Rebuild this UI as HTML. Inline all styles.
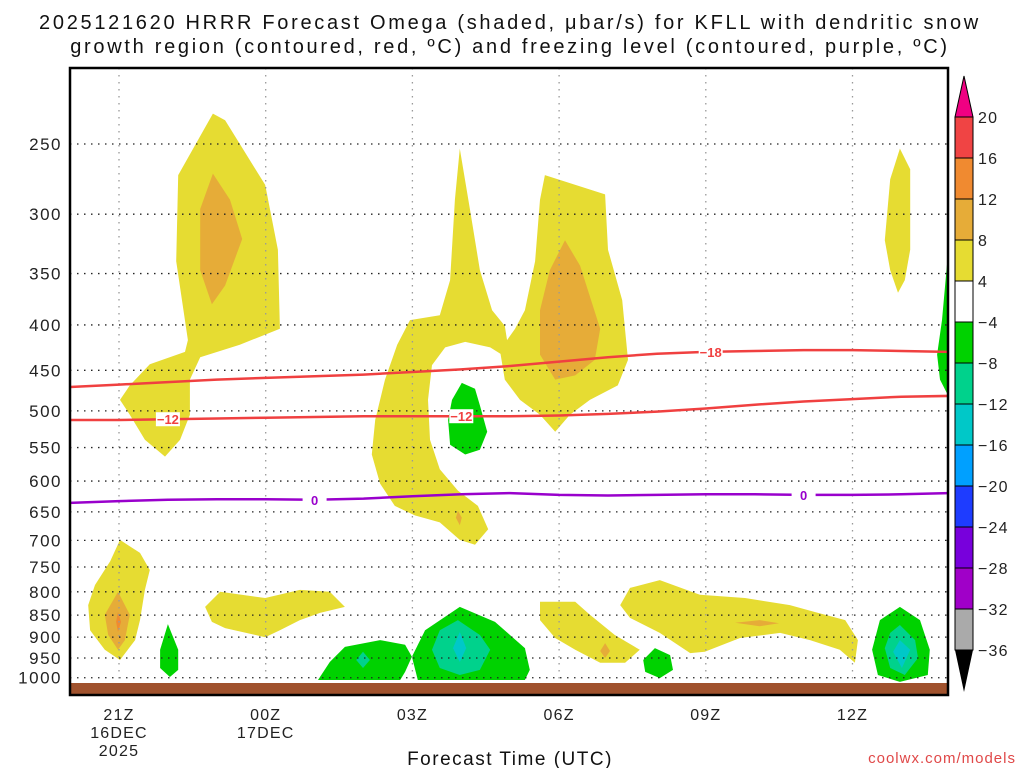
<!DOCTYPE html>
<html><head><meta charset="utf-8"><style>
body{margin:0;background:#fff;}
svg text{font-family:"Liberation Sans","DejaVu Sans",sans-serif;}
</style></head><body>
<svg id="c" width="1024" height="768" xmlns="http://www.w3.org/2000/svg">
<defs><clipPath id="pc"><rect x="70" y="68" width="878" height="615"/></clipPath></defs>
<text x="510" y="29" text-anchor="middle" font-size="20" letter-spacing="2.7" fill="#111">2025121620 HRRR Forecast Omega (shaded, μbar/s) for KFLL with dendritic snow</text>
<text x="510" y="53" text-anchor="middle" font-size="20" letter-spacing="2.7" fill="#111">growth region (contoured, red, ºC) and freezing level (contoured, purple, ºC)</text>
<g id="shade" clip-path="url(#pc)"></g>
<g id="grid"></g>
<g id="lines" clip-path="url(#pc)"></g>
<rect x="70" y="683" width="878" height="12" fill="#a0522d"/>
<rect x="70" y="68" width="878" height="627" fill="none" stroke="#000" stroke-width="2.5"/>
<g id="axes"></g>
<g id="cbar"></g>
<text x="510" y="765" text-anchor="middle" font-size="19" letter-spacing="1.5" fill="#111">Forecast Time (UTC)</text>
<text x="1016" y="763" text-anchor="end" font-size="15" letter-spacing="1" fill="#e04848">coolwx.com/models</text>
</svg>
<script>
const pLevels=[250,300,350,400,450,500,550,600,650,700,750,800,850,900,950,1000];
const tickHours=[0,3,6,9,12,15];
const tickLine1=["21Z","00Z","03Z","06Z","09Z","12Z"];
const tickLine2=["16DEC","17DEC","","","",""];
const tickLine3=["2025","","","","",""];
const lineHours=[-1,0,1,2,3,4,5,6,7,8,9,10,11,12,13,14,15,16,17];
const isoM18=[470,467,464,461,459,457,455,452,449,445,440,435,431,429,428,427,427,428,429];
const isoM12=[512,512,511,510,509,508,507,507,507,507,506,504,501,497,492,488,485,482,481];
const iso0=[635,632,630,629,629,630,628,624,621,619,622,623,622,621,621,622,622,621,619];
const cbLabels=[20,16,12,8,4,-4,-8,-12,-16,-20,-24,-28,-32,-36];
const cbColors=["#f04444","#f08a30","#e6ac38","#e6dc32","#ffffff","#00d200","#00d28c","#00c8c8","#00a0ff","#1e3cff","#7800dc","#a000c8","#aaaaaa"];
const Y="#e6dc32",G="#e6ac38",O="#f08a30",GR="#00d200",T="#00d28c",CY="#00c8c8";
const blobA=[[1.92,231],[2.17,235],[2.99,278],[3.25,329],[3.29,404],[2.47,421],[1.66,435],[1.45,461],[1.45,505],[1.25,539],[0.94,563],[0.53,539],[0.22,505],[0.02,486],[0.22,468],[0.63,443],[1.35,429],[1.41,416],[1.17,339],[1.21,271]];
const blobAo=[[1.92,270],[2.27,289],[2.52,320],[2.17,361],[1.90,379],[1.66,347],[1.66,296]];
const blobB=[[6.97,253],[7.18,297],[7.38,347],[7.63,385],[7.89,401],[8.00,438],[7.59,424],[7.08,418],[6.67,424],[6.40,444],[6.32,486],[6.36,539],[6.56,582],[6.93,615],[7.34,640],[7.55,680],[7.28,708],[6.97,699],[6.56,668],[6.05,656],[5.64,640],[5.34,604],[5.17,560],[5.24,512],[5.44,461],[5.69,421],[5.95,395],[6.56,390],[6.77,356],[6.87,289]];
const blobBg=[[7.01,465],[7.28,472],[7.38,493],[7.53,528],[7.38,553],[7.08,560],[6.77,546],[6.73,512],[6.81,486]];
const blobBo=[[6.93,648],[7.01,660],[6.97,673],[6.89,660]];
const blobC=[[8.71,271],[9.94,285],[10.0,329],[10.29,375],[10.41,438],[10.2,468],[9.63,486],[9.22,505],[8.92,528],[8.61,505],[8.20,486],[7.89,461],[7.79,427],[8.10,404],[8.30,385],[8.51,339],[8.61,289]];
const blobCo=[[9.12,321],[9.43,343],[9.84,404],[9.73,438],[9.33,456],[8.92,461],[8.61,432],[8.61,385],[8.81,347]];
const blobD=[[0.02,699],[0.43,723],[0.63,756],[0.53,796],[0.43,861],[0.33,907],[0.02,955],[-0.29,930],[-0.59,884],[-0.63,828],[-0.49,786],[-0.18,739]];
const blobDg=[[-0.02,800],[0.22,849],[0.12,907],[-0.02,930],[-0.22,895],[-0.29,849]];
const blobDo=[[-0.02,843],[0.04,865],[-0.02,888],[-0.06,865]];
const blobE=[[1.0,870],[1.21,930],[1.21,980],[1.04,998],[0.84,975],[0.84,930]];
const blobF=[[1.76,832],[2.07,800],[2.99,813],[3.70,796],[4.31,800],[4.62,832],[4.11,845],[3.70,861],[3.29,884],[2.99,900],[2.17,879],[1.90,865]];
const blobG=[[4.07,1006],[4.31,960],[4.62,923],[5.34,907],[5.85,918],[5.99,947],[5.85,985],[5.75,1006]];
const blobGt=[[4.99,935],[5.13,955],[4.99,975],[4.85,955]];
const blobH=[[5.99,947],[6.26,884],[6.97,832],[7.69,865],[8.30,926],[8.40,980],[8.30,1006],[6.11,1006]];
const blobHt=[[6.93,861],[7.38,895],[7.59,930],[7.38,980],[6.97,993],[6.56,975],[6.40,930],[6.56,884]];
const blobHc=[[6.97,888],[7.10,926],[6.97,960],[6.83,926]];
const blobI=[[8.61,821],[9.33,821],[9.63,849],[10.14,895],[10.65,930],[10.35,962],[9.84,962],[9.33,930],[8.92,902],[8.61,861]];
const blobIo=[[9.94,914],[10.04,933],[9.94,950],[9.84,933]];
const blobJ=[[10.96,926],[11.27,943],[11.33,980],[11.06,1001],[10.76,985],[10.72,955]];
const blobK=[[10.45,792],[11.06,776],[11.88,806],[12.80,813],[13.72,828],[14.23,843],[14.85,861],[15.11,907],[15.05,962],[14.74,930],[14.13,907],[13.52,890],[12.70,902],[11.98,935],[11.68,938],[11.06,890],[10.45,856],[10.25,828]];
const blobKg=[[12.6,867],[13.1,861],[13.5,868],[13.1,875]];
const blobL=[[15.97,832],[16.38,861],[16.58,930],[16.54,993],[15.97,1011],[15.52,993],[15.40,930],[15.56,861]];
const blobLt=[[15.97,872],[16.28,907],[16.34,950],[16.07,993],[15.77,975],[15.66,926],[15.77,890]];
const blobLc=[[15.97,907],[16.18,930],[16.01,975],[15.83,935]];
const blobM=[[15.97,253],[16.18,267],[16.18,329],[16.07,356],[15.93,368],[15.77,347],[15.66,321],[15.77,274]];
const blobN=[[16.95,333],[17.2,333],[17.2,480],[16.95,480],[16.79,461],[16.73,432],[16.83,395]];
const NS="http://www.w3.org/2000/svg";
const xs=h=>119+h*48.9;
const ys=p=>144+385*Math.log(p/250);
function el(tag,attrs,parent){const e=document.createElementNS(NS,tag);for(const k in attrs)e.setAttribute(k,attrs[k]);parent.appendChild(e);return e;}
const shade=document.getElementById('shade');
const blobs=[[blobA,Y],[blobAo,G],[blobB,Y],[blobC,Y],[blobCo,G],[blobBg,GR],[blobBo,G],[blobD,Y],[blobDg,G],[blobDo,O],[blobE,GR],[blobF,Y],[blobG,GR],[blobGt,T],[blobH,GR],[blobHt,T],[blobHc,CY],[blobI,Y],[blobIo,G],[blobJ,GR],[blobK,Y],[blobKg,G],[blobL,GR],[blobLt,T],[blobLc,CY],[blobM,Y],[blobN,GR]];
blobs.forEach(([pts,col])=>{
  const e=el('polygon',{points:pts.map(q=>xs(q[0]).toFixed(1)+','+ys(q[1]).toFixed(1)).join(' '),fill:col},shade);
  
  
});
const grid=document.getElementById('grid'),axes=document.getElementById('axes');
pLevels.forEach(p=>{
  const y=ys(p);
  const l=el('line',{x1:70,x2:948,y1:y,y2:y,stroke:'#222','stroke-width':1.3,'stroke-dasharray':'1.5 5.5'},grid);
  
  
  const t=el('text',{x:62,y:y+6,'text-anchor':'end','font-size':17,'letter-spacing':1.5,fill:'#222'},axes);
  t.textContent=p;
  
  
});
tickHours.forEach((h,i)=>{
  const x=xs(h);
  const l=el('line',{x1:x,x2:x,y1:68,y2:683,stroke:'#999','stroke-width':1.3,'stroke-dasharray':'1.5 5.5'},grid);
  
  
  [tickLine1[i],tickLine2[i],tickLine3[i]].forEach((s,j)=>{
    if(!s)return;
    const t=el('text',{x:x,y:720+j*18,'text-anchor':'middle','font-size':16,'letter-spacing':1.2,fill:'#222'},axes);
    t.textContent=s;
    
    
  });
});
const lines=document.getElementById('lines');
function contour(vals,col,name,labels){
  const d=vals.map((p,i)=>(i?'L':'M')+xs(lineHours[i]).toFixed(1)+','+ys(p).toFixed(1)).join(' ');
  const e=el('path',{d:d,fill:'none',stroke:col,'stroke-width':2.5},lines);
  
  
  labels.forEach(([h,s])=>{
    const i=Math.floor(h)+1,f=h-Math.floor(h);
    const p=vals[i]+(vals[i+1]-vals[i])*f;
    const x=xs(h),y=ys(p);
    el('rect',{x:x-12,y:y-7,width:24,height:14,fill:'#fff'},lines);
    const t=el('text',{x:x,y:y+5,'text-anchor':'middle','font-size':13,'font-weight':'bold',fill:col},lines);
    t.textContent=s;
    
    
  });
}
contour(isoM18,'#f04040','isotherm-minus18',[[12.1,'−18']]);
contour(isoM12,'#f04040','isotherm-minus12',[[1.0,'−12'],[7.0,'−12']]);
contour(iso0,'#9900cc','freezing-level',[[4.0,'0'],[14.0,'0']]);
const cb=document.getElementById('cbar');
const cbTop=117,cbStep=41,cbX=955,cbW=18;
const tri1=el('polygon',{points:`${cbX},${cbTop} ${cbX+cbW},${cbTop} ${cbX+cbW/2},76`,fill:'#f00082',stroke:'#000','stroke-width':1},cb);


cbColors.forEach((c,i)=>{
  const r=el('rect',{x:cbX,y:cbTop+i*cbStep,width:cbW,height:cbStep,fill:c,stroke:'#000','stroke-width':1},cb);
  
  
});
const bot=cbTop+cbColors.length*cbStep;
const tri2=el('polygon',{points:`${cbX},${bot} ${cbX+cbW},${bot} ${cbX+cbW/2},692`,fill:'#000'},cb);


cbLabels.forEach((v,i)=>{
  const t=el('text',{x:978,y:cbTop+i*cbStep+6,'font-size':16,'letter-spacing':1.2,fill:'#222'},cb);
  t.textContent=v<0?'−'+(-v):v;
  
  
});
</script>
</body></html>
